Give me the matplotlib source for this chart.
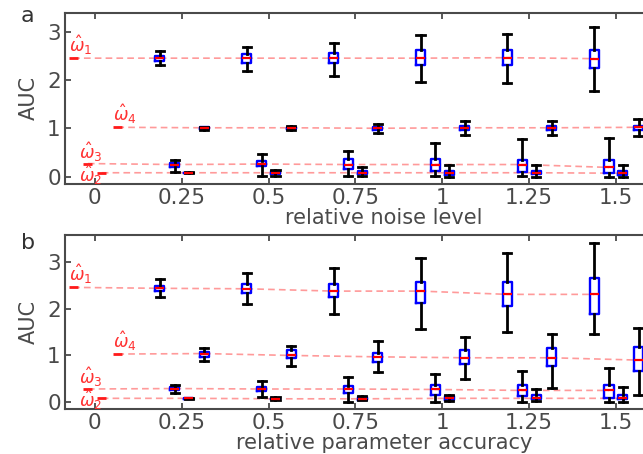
import numpy as np
import matplotlib
matplotlib.use("Agg")
import matplotlib.pyplot as plt

# noise / accuracy levels (level 0 = true parameter value)
levels = [0.25, 0.5, 0.75, 1.0, 1.25, 1.5]
params = ["1", "3", "2", "4"]          # left-to-right order inside each group
offsets = {"1": -0.0625, "3": -0.02, "2": 0.02, "4": 0.065}

# ---- panel a : relative noise level ----
a_true = {"1": 2.45, "4": 1.02, "3": 0.27, "2": 0.08}
a_med = {"1": [2.45, 2.45, 2.45, 2.45, 2.46, 2.44],
         "4": [1.01, 1.01, 1.00, 1.01, 1.01, 1.02],
         "3": [0.25, 0.26, 0.25, 0.25, 0.25, 0.19],
         "2": [0.08, 0.08, 0.08, 0.08, 0.08, 0.07]}
a_q1 = {"1": [2.39, 2.34, 2.34, 2.31, 2.31, 2.25],
        "4": [0.99, 0.99, 0.96, 0.97, 0.97, 0.97],
        "3": [0.19, 0.21, 0.15, 0.11, 0.09, 0.08],
        "2": [0.075, 0.05, 0.05, 0.04, 0.05, 0.03]}
a_q3 = {"1": [2.49, 2.53, 2.55, 2.62, 2.62, 2.62],
        "4": [1.02, 1.03, 1.03, 1.04, 1.04, 1.05],
        "3": [0.29, 0.33, 0.36, 0.36, 0.34, 0.35],
        "2": [0.085, 0.11, 0.11, 0.12, 0.11, 0.12]}
a_lo = {"1": [2.31, 2.19, 2.08, 1.96, 1.93, 1.78],
        "4": [0.97, 0.97, 0.90, 0.86, 0.86, 0.84],
        "3": [0.10, 0.01, 0.01, 0.01, 0.01, 0.00],
        "2": [0.07, 0.01, 0.01, 0.00, 0.00, 0.00]}
a_hi = {"1": [2.60, 2.69, 2.77, 2.93, 2.96, 3.09],
        "4": [1.03, 1.05, 1.09, 1.14, 1.14, 1.19],
        "3": [0.35, 0.47, 0.54, 0.69, 0.78, 0.80],
        "2": [0.09, 0.14, 0.19, 0.23, 0.23, 0.23]}

# ---- panel b : relative parameter accuracy ----
b_true = {"1": 2.46, "4": 1.03, "3": 0.28, "2": 0.08}
b_med = {"1": [2.44, 2.43, 2.38, 2.38, 2.31, 2.31],
         "4": [1.04, 1.00, 0.97, 0.95, 0.95, 0.90],
         "3": [0.29, 0.28, 0.28, 0.27, 0.25, 0.25],
         "2": [0.08, 0.07, 0.07, 0.08, 0.08, 0.08]}
b_q1 = {"1": [2.38, 2.33, 2.26, 2.13, 2.06, 1.88],
        "4": [0.97, 0.95, 0.85, 0.81, 0.77, 0.66],
        "3": [0.25, 0.24, 0.19, 0.15, 0.12, 0.09],
        "2": [0.075, 0.06, 0.05, 0.05, 0.06, 0.06]}
b_q3 = {"1": [2.48, 2.53, 2.54, 2.58, 2.58, 2.67],
        "4": [1.08, 1.11, 1.06, 1.11, 1.15, 1.18],
        "3": [0.33, 0.33, 0.34, 0.36, 0.36, 0.36],
        "2": [0.085, 0.09, 0.10, 0.12, 0.15, 0.15]}
b_lo = {"1": [2.26, 2.10, 1.88, 1.56, 1.51, 1.47],
        "4": [0.88, 0.77, 0.65, 0.49, 0.31, 0.15],
        "3": [0.20, 0.11, 0.01, 0.01, 0.00, 0.00],
        "2": [0.07, 0.04, 0.04, 0.03, 0.03, 0.01]}
b_hi = {"1": [2.63, 2.76, 2.88, 3.08, 3.20, 3.41],
        "4": [1.15, 1.20, 1.31, 1.40, 1.45, 1.59],
        "3": [0.36, 0.46, 0.53, 0.61, 0.66, 0.73],
        "2": [0.09, 0.11, 0.12, 0.15, 0.28, 0.33]}

xticks = [0, 0.25, 0.5, 0.75, 1, 1.25, 1.5]
xticklabels = ["0", "0.25", "0.5", "0.75", "1", "1.25", "1.5"]
yticks = [0, 1, 2, 3]

# label offsets (points) for the omega-hat annotations
lab_off = {"1": (0, 1), "4": (0, 1), "3": (-3, 0), "2": (-13, -10)}

GREY = "#4a4a4a"
BOXW = 0.026


def panel(ax, true, med, q1, q3, lo, hi, ylim, xlabel):
    for p in params:
        pos = [lv + offsets[p] for lv in levels]
        stats = []
        for i in range(len(levels)):
            stats.append(dict(med=med[p][i], q1=q1[p][i], q3=q3[p][i],
                              whislo=lo[p][i], whishi=hi[p][i], fliers=[]))
        ax.bxp(stats, positions=pos, widths=BOXW, capwidths=BOXW * 0.9,
               showfliers=False, manage_ticks=False,
               boxprops=dict(color="#0000ff", linewidth=1.7),
               medianprops=dict(color="#ff0000", linewidth=1.6),
               whiskerprops=dict(color="black", linewidth=2),
               capprops=dict(color="black", linewidth=2))

        # dashed trend through medians, starting at true value
        x0 = offsets[p]
        ax.plot([x0] + pos, [true[p]] + med[p], color="#ff9a9a",
                linestyle=(0, (4, 2.5)), linewidth=1.2, zorder=0.5)
        # true value mark
        ax.plot([x0 - BOXW / 2, x0 + BOXW / 2], [true[p], true[p]],
                color="#ff1a1a", linewidth=2, solid_capstyle="butt", zorder=3)
        ax.annotate(r"$\hat{\omega}_%s$" % p, xy=(x0 - BOXW / 2, true[p]),
                    xytext=lab_off[p], textcoords="offset points",
                    ha="left", va="bottom", color="#ff3333", fontsize=12.5)

    ax.set_xlim(-0.086, 1.75)
    ax.set_ylim(*ylim)
    ax.set_xticks(xticks)
    ax.set_xticklabels(xticklabels)
    ax.set_yticks(yticks)
    ax.tick_params(direction="in", top=True, right=True, length=4, width=1.3,
                   colors=GREY, labelsize=15.5)
    ax.tick_params(axis="x", pad=3)
    ax.tick_params(axis="y", pad=3)
    for s in ax.spines.values():
        s.set_color(GREY)
        s.set_linewidth(1.5)
    ax.set_ylabel("AUC", fontsize=15, color=GREY, labelpad=6)
    ax.set_xlabel(xlabel, fontsize=15, color=GREY, labelpad=0)


fig = plt.figure(figsize=(6.43, 4.54), dpi=100)
ax1 = fig.add_axes([0.101, 0.595, 0.992, 0.377])
ax2 = fig.add_axes([0.101, 0.099, 0.992, 0.383])

panel(ax1, a_true, a_med, a_q1, a_q3, a_lo, a_hi, (-0.15, 3.39),
      "relative noise level")
panel(ax2, b_true, b_med, b_q1, b_q3, b_lo, b_hi, (-0.15, 3.58),
      "relative parameter accuracy")

fig.text(27 / 643, 1 - 16 / 454, "a", fontsize=16, color="#333333",
         ha="center", va="center")
fig.text(28 / 643, 1 - 243 / 454, "b", fontsize=16, color="#333333",
         ha="center", va="center")

fig.savefig("out.png", dpi=100)
plt.close(fig)
